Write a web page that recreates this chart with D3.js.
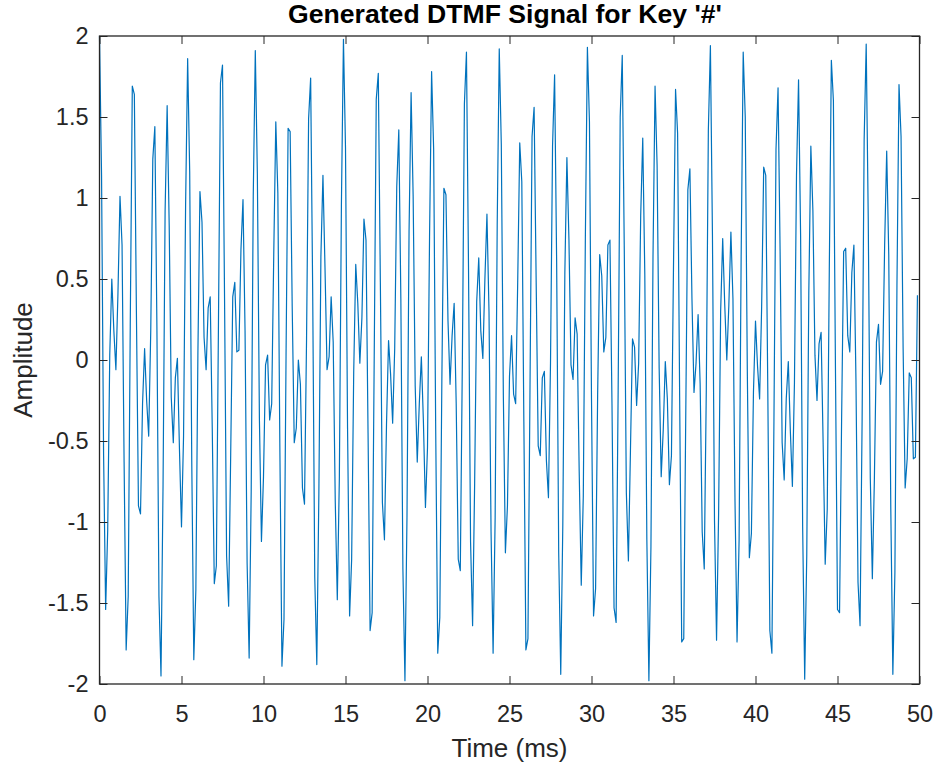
<!DOCTYPE html>
<html>
<head>
<meta charset="utf-8">
<script src="https://cdn.jsdelivr.net/npm/d3@7"></script>
<style>
  body { margin: 0; background: #fff; }
  svg { display: block; font-family: "Liberation Sans", Arial, Helvetica, sans-serif; }
  .tick text { fill: #262626; }
</style>
</head>
<body>
<svg width="937" height="769"></svg>
<script>
// one sample every 0.125 ms (8 kHz), 400 samples
const SAMPLE_STEP_MS = 0.125;

const amplitude = [
	2.00, 1.14, -0.59, -1.54, -1.05, 0.03, 0.50, 0.18, -0.06, 0.41,
	1.01, 0.71, -0.63, -1.79, -1.46, 0.21, 1.69, 1.64, 0.30, -0.90,
	-0.95, -0.27, 0.07, -0.25, -0.47, 0.18, 1.24, 1.44, 0.21, -1.46,
	-1.95, -0.77, 0.92, 1.57, 0.83, -0.23, -0.51, -0.11, 0.01, -0.55,
	-1.03, -0.47, 0.96, 1.86, 1.16, -0.62, -1.85, -1.42, 0.04, 1.04,
	0.85, 0.14, -0.06, 0.32, 0.39, -0.42, -1.38, -1.27, 0.18, 1.71,
	1.82, 0.38, -1.21, -1.52, -0.58, 0.39, 0.48, 0.05, 0.06, 0.68,
	0.99, 0.18, -1.25, -1.84, -0.81, 1.01, 1.91, 1.15, -0.36, -1.12,
	-0.72, -0.03, 0.03, -0.37, -0.27, 0.65, 1.47, 1.03, -0.57, -1.89,
	-1.60, 0.03, 1.43, 1.41, 0.33, -0.51, -0.42, 0.00, -0.15, -0.79,
	-0.89, 0.13, 1.49, 1.74, 0.41, -1.34, -1.88, -0.83, 0.64, 1.14,
	0.57, -0.06, 0.02, 0.39, 0.11, -0.87, -1.48, -0.73, 0.95, 1.98,
	1.31, -0.42, -1.58, -1.23, -0.08, 0.59, 0.35, -0.02, 0.26, 0.87,
	0.74, -0.45, -1.67, -1.56, 0.01, 1.61, 1.77, 0.48, -0.88, -1.11,
	-0.40, 0.12, -0.09, -0.39, 0.07, 1.07, 1.42, 0.38, -1.29, -1.98,
	-0.96, 0.79, 1.65, 1.01, -0.16, -0.63, -0.27, 0.02, -0.38, -0.91,
	-0.54, 0.76, 1.78, 1.30, -0.43, -1.81, -1.59, -0.13, 1.06, 1.02,
	0.24, -0.15, 0.15, 0.35, -0.27, -1.23, -1.30, -0.01, 1.58, 1.90,
	0.58, -1.12, -1.64, -0.76, 0.36, 0.63, 0.18, 0.01, 0.50, 0.90,
	0.30, -1.06, -1.81, -0.97, 0.83, 1.92, 1.33, -0.22, -1.19, -0.90,
	-0.10, 0.15, -0.21, -0.27, 0.48, 1.34, 1.10, -0.38, -1.79, -1.72,
	-0.17, 1.38, 1.56, 0.49, -0.53, -0.59, -0.11, -0.07, -0.62, -0.85,
	-0.02, 1.32, 1.76, 0.60, -1.19, -1.94, -1.02, 0.54, 1.25, 0.74,
	-0.03, -0.12, 0.26, 0.16, -0.69, -1.39, -0.84, 0.75, 1.93, 1.47,
	-0.24, -1.58, -1.41, -0.21, 0.65, 0.52, 0.05, 0.14, 0.71, 0.74,
	-0.28, -1.53, -1.62, -0.19, 1.50, 1.88, 0.67, -0.82, -1.24, -0.56,
	0.13, 0.08, -0.28, -0.02, 0.89, 1.37, 0.53, -1.11, -1.98, -1.15,
	0.64, 1.69, 1.20, -0.05, -0.72, -0.43, -0.01, -0.24, -0.77, -0.59,
	0.58, 1.67, 1.40, -0.23, -1.74, -1.72, -0.31, 1.05, 1.18, 0.38,
	-0.20, -0.02, 0.28, -0.15, -1.06, -1.29, -0.18, 1.42, 1.94, 0.77,
	-0.99, -1.73, -0.95, 0.30, 0.75, 0.34, 0.00, 0.34, 0.79, 0.38,
	-0.87, -1.74, -1.11, 0.64, 1.90, 1.50, -0.06, -1.22, -1.07, -0.20,
	0.24, -0.04, -0.24, 0.33, 1.19, 1.14, -0.19, -1.67, -1.81, -0.37,
	1.30, 1.68, 0.67, -0.51, -0.74, -0.24, -0.01, -0.44, -0.78, -0.14,
	1.14, 1.73, 0.77, -1.03, -1.97, -1.21, 0.41, 1.32, 0.92, 0.03,
	-0.25, 0.10, 0.17, -0.52, -1.26, -0.92, 0.56, 1.85, 1.60, -0.05,
	-1.54, -1.56, -0.37, 0.67, 0.69, 0.15, 0.05, 0.54, 0.71, -0.12,
	-1.37, -1.64, -0.38, 1.36, 1.95, 0.87, -0.73, -1.35, -0.73, 0.11,
	0.22, -0.15, -0.07, 0.71, 1.29, 0.65, -0.92, -1.94, -1.31, 0.46,
	1.70, 1.38, 0.08, -0.79, -0.61, -0.08, -0.11, -0.61, -0.60, 0.40
];

const xTicks = [0, 5, 10, 15, 20, 25, 30, 35, 40, 45, 50];
const yTicks = [-2, -1.5, -1, -0.5, 0, 0.5, 1, 1.5, 2];

const titleText = "Generated DTMF Signal for Key '#'";
const xLabel = "Time (ms)";
const yLabel = "Amplitude";

const plotLeft = 99.5, plotRight = 919.5, plotTop = 36, plotBottom = 684;
const tickLen = 8;
const axisColor = "#262626";

const svg = d3.select("svg");

const x = d3.scaleLinear().domain([0, 50]).range([plotLeft, plotRight]);
const y = d3.scaleLinear().domain([-2, 2]).range([plotBottom, plotTop]);

const fmt = (d) => String(d);

// signal
const line = d3
	.line()
	.x((d, i) => x(i * SAMPLE_STEP_MS))
	.y((d) => y(d));

svg
	.append("path")
	.datum(amplitude)
	.attr("fill", "none")
	.attr("stroke", "#0072BD")
	.attr("stroke-width", 1.2)
	.attr("stroke-linejoin", "round")
	.attr("d", line);

// axes, ticks inside like matlab
function styleAxis(g) {
	g.select(".domain").remove();
	g.selectAll(".tick line").attr("stroke", axisColor).attr("stroke-width", 1);
	g.selectAll(".tick text").attr("font-size", 23.5).attr("font-family", "Liberation Sans, Arial, sans-serif");
}

svg
	.append("g")
	.attr("transform", `translate(0,${plotBottom})`)
	.call(d3.axisBottom(x).tickValues(xTicks).tickFormat(fmt).tickSize(-tickLen).tickPadding(21))
	.call(styleAxis);

svg
	.append("g")
	.attr("transform", `translate(0,${plotTop})`)
	.call(d3.axisTop(x).tickValues(xTicks).tickFormat("").tickSize(-tickLen))
	.call(styleAxis);

svg
	.append("g")
	.attr("transform", `translate(${plotLeft},0)`)
	.call(d3.axisLeft(y).tickValues(yTicks).tickFormat(fmt).tickSize(-tickLen).tickPadding(11))
	.call(styleAxis);

svg
	.append("g")
	.attr("transform", `translate(${plotRight},0)`)
	.call(d3.axisRight(y).tickValues(yTicks).tickFormat("").tickSize(-tickLen))
	.call(styleAxis);

// box
svg
	.append("rect")
	.attr("x", plotLeft)
	.attr("y", plotTop)
	.attr("width", plotRight - plotLeft)
	.attr("height", plotBottom - plotTop)
	.attr("fill", "none")
	.attr("stroke", axisColor)
	.attr("stroke-width", 1.3);

// texts
svg
	.append("text")
	.attr("x", 505)
	.attr("y", 22.5)
	.attr("text-anchor", "middle")
	.attr("font-size", 26.6)
	.attr("font-weight", "bold")
	.attr("fill", "#000")
	.text(titleText);

svg
	.append("text")
	.attr("x", (plotLeft + plotRight) / 2)
	.attr("y", 757)
	.attr("text-anchor", "middle")
	.attr("font-size", 26)
	.attr("fill", axisColor)
	.text(xLabel);

svg
	.append("text")
	.attr("transform", `translate(32,${(plotTop + plotBottom) / 2}) rotate(-90)`)
	.attr("text-anchor", "middle")
	.attr("font-size", 26)
	.attr("fill", axisColor)
	.text(yLabel);
</script>
</body>
</html>
